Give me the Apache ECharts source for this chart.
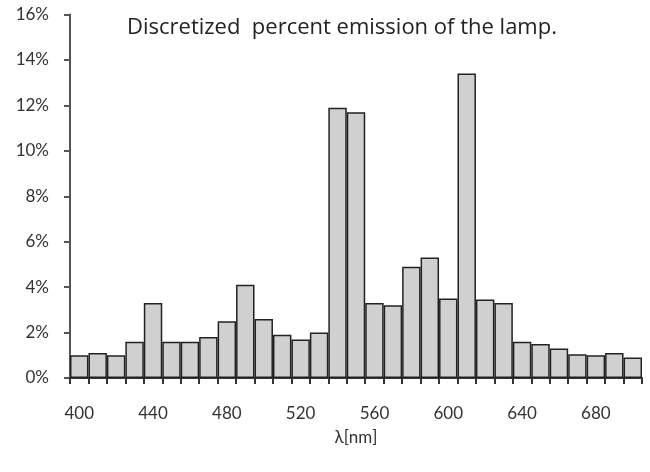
<!DOCTYPE html>
<html>
<head>
<meta charset="utf-8">
<script src="https://cdn.jsdelivr.net/npm/echarts@6/dist/echarts.min.js"></script>
<style>
  html, body { margin: 0; padding: 0; background: #fff; }
  #chart { width: 650px; height: 472px; }
</style>
</head>
<body>
<div id="chart"></div>
<script>
// wavelength bins (nm) and percent emission per bin
const wavelengths = [400, 410, 420, 430, 440, 450, 460, 470, 480, 490,
  500, 510, 520, 530, 540, 550, 560, 570, 580, 590,
  600, 610, 620, 630, 640, 650, 660, 670, 680, 690, 700];
const emission = [1.0, 1.1, 1.0, 1.6, 3.3, 1.6, 1.6, 1.8, 2.5, 4.1,
  2.6, 1.9, 1.7, 2.0, 11.9, 11.7, 3.3, 3.2, 4.9, 5.3,
  3.5, 13.4, 3.45, 3.3, 1.6, 1.5, 1.3, 1.05, 1.0, 1.1, 0.9];
const yTicks = [0, 2, 4, 6, 8, 10, 12, 14, 16];

const font = "Lato, 'Open Sans', sans-serif";
const chart = echarts.init(document.getElementById("chart"));
chart.setOption({
  animation: false,
  title: {
    text: "Discretized  percent emission of the lamp.",
    left: 122,
    top: 12,
    textStyle: { fontFamily: "'Open Sans', sans-serif", fontSize: 22, fontWeight: "normal", color: "#222" },
  },
  grid: { left: 70, right: 8, top: 14.5, bottom: 94 },
  xAxis: {
    type: "category",
    data: wavelengths,
    name: "λ[nm]",
    nameLocation: "middle",
    nameGap: 51,
    nameTextStyle: { fontFamily: font, fontSize: 17, color: "#333" },
    axisLine: { lineStyle: { color: "#333", width: 2 } },
    axisTick: { show: true, interval: 0, length: 6, lineStyle: { color: "#333", width: 2 } },
    axisLabel: {
      interval: 3,
      margin: 27,
      fontFamily: font,
      fontSize: 17,
      color: "#333",
    },
  },
  yAxis: {
    type: "value",
    min: yTicks[0],
    max: yTicks[yTicks.length - 1],
    interval: 2,
    splitLine: { show: false },
    axisLine: { show: true, lineStyle: { color: "#555", width: 2 } },
    axisTick: { show: true, length: 6, lineStyle: { color: "#555", width: 2 } },
    axisLabel: {
      formatter: "{value}%",
      margin: 21,
      fontFamily: font,
      fontSize: 17,
      color: "#333",
    },
  },
  series: [
    {
      type: "bar",
      data: emission,
      barCategoryGap: 0,
      itemStyle: { color: "#d0d0d0", borderColor: "#222", borderWidth: 1.5 },
    },
  ],
});
</script>
</body>
</html>
